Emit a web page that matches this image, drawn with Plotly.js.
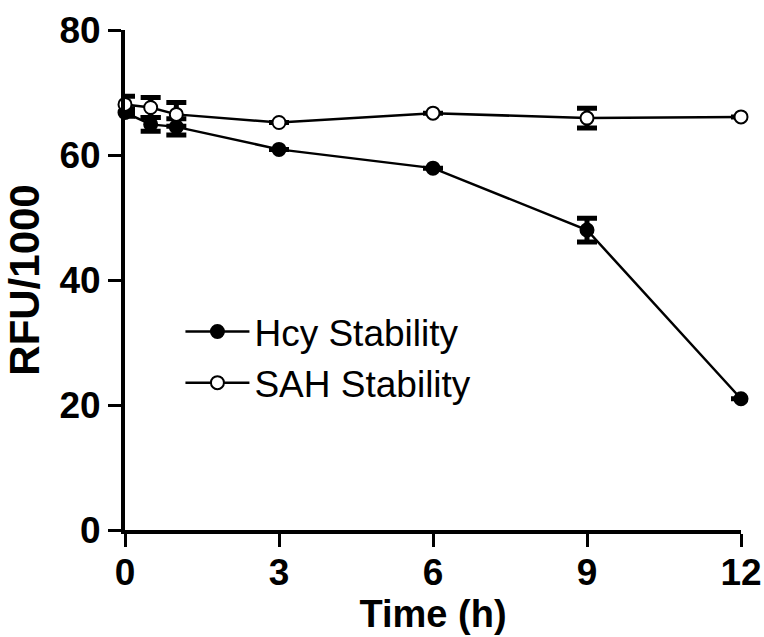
<!DOCTYPE html>
<html>
<head>
<meta charset="utf-8">
<script src="https://cdn.plot.ly/plotly-3.0.1.min.js"></script>
<style>html,body{margin:0;padding:0;background:#fff;}#chart{width:764px;height:637px;}</style>
</head>
<body>
<div id="chart"></div>
<script>
const timeH = [0, 0.5, 1, 3, 6, 9, 12];
const hcyValues = [66.8, 64.9, 64.5, 60.9, 57.9, 48.0, 21.0];
const hcyErrors = [0.6, 1.1, 1.3, 0, 0, 1.9, 0];
const sahValues = [68.1, 67.6, 66.5, 65.2, 66.7, 65.9, 66.1];
const sahErrors = [1.3, 1.6, 1.9, 0, 0, 1.6, 0];
const xTicks = [0, 3, 6, 9, 12];
const yTicks = [0, 20, 40, 60, 80];

const errStyle = {type: 'data', visible: true, color: '#000', thickness: 5, width: 10};

const traces = [
  {
    x: timeH, y: hcyValues, name: 'Hcy Stability', type: 'scatter', mode: 'lines+markers',
    legendgroup: 'hcy',
    line: {color: '#000', width: 2.5},
    marker: {symbol: 'circle', size: 13, color: '#000', line: {color: '#000', width: 2}},
    error_y: Object.assign({array: hcyErrors}, errStyle),
    cliponaxis: false
  },
  {
    x: timeH, y: sahValues, name: 'SAH Stability', type: 'scatter', mode: 'lines+markers',
    legendgroup: 'sah',
    line: {color: '#000', width: 2.5},
    marker: {symbol: 'circle', size: 13, color: '#fff', line: {color: '#000', width: 2}},
    error_y: Object.assign({array: sahErrors}, errStyle),
    cliponaxis: false
  }
];

const tickFont = {family: 'Liberation Sans, Arial, sans-serif', size: 37, color: '#000', weight: 'bold'};
const xTitleFont = {family: 'Liberation Sans, Arial, sans-serif', size: 38, color: '#000', weight: 'bold'};
const yTitleFont = {family: 'Liberation Sans, Arial, sans-serif', size: 42, color: '#000', weight: 'bold'};

const layout = {
  width: 764, height: 637,
  margin: {l: 125, r: 23, t: 30, b: 107},
  paper_bgcolor: '#fff', plot_bgcolor: '#fff',
  showlegend: true,
  legend: {
    x: 0.09, y: 0.458, xanchor: 'left', yanchor: 'top',
    font: {family: 'Liberation Sans, Arial, sans-serif', size: 37, color: '#000'},
    bgcolor: 'rgba(0,0,0,0)', borderwidth: 0, tracegroupgap: 0, itemwidth: 64
  },
  xaxis: {
    range: [0, 12], tickvals: xTicks, ticktext: xTicks.map(String),
    showgrid: false, zeroline: false, showline: true, linecolor: '#000', linewidth: 4,
    ticks: 'outside', ticklen: 13, tickwidth: 3, tickcolor: '#000',
    tickfont: tickFont, ticklabelstandoff: -6,
    title: {text: 'Time (h)', font: xTitleFont, standoff: 6}
  },
  yaxis: {
    range: [0, 80], tickvals: yTicks, ticktext: yTicks.map(String),
    showgrid: false, zeroline: false, showline: true, linecolor: '#000', linewidth: 4,
    ticks: 'outside', ticklen: 13, tickwidth: 3, tickcolor: '#000',
    tickfont: tickFont,
    title: {text: 'RFU/1000', font: yTitleFont, standoff: 8}
  }
};

Plotly.newPlot('chart', traces, layout, {displayModeBar: false, staticPlot: true});
</script>
</body>
</html>
